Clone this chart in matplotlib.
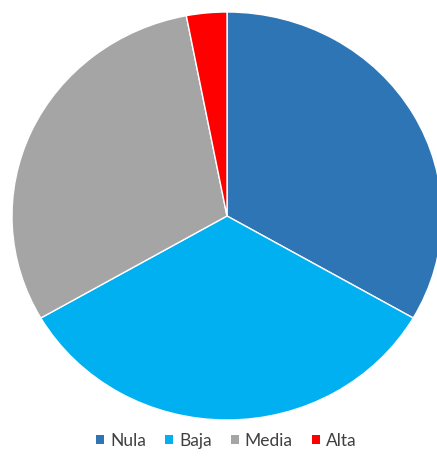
import matplotlib.pyplot as plt
from matplotlib.patches import Patch

categorias = ["Nula", "Baja", "Media", "Alta"]
valores = [11, 11, 10, 1]
colores = ["#2E75B6", "#00B0F0", "#A5A5A5", "#FF0000"]

plt.rcParams['font.family'] = ['Lato', 'DejaVu Sans']

fig = plt.figure(figsize=(4.37, 4.59), dpi=100)
ax = fig.add_axes([12 / 437, 39 / 459, 430 / 437, 408 / 459])

ax.pie(valores, colors=colores, startangle=90, counterclock=False,
       radius=1, wedgeprops=dict(edgecolor="white", linewidth=1))
ax.set_aspect('auto')
ax.set_xlim(-1, 1)
ax.set_ylim(-1, 1)
ax.axis('off')

handles = [Patch(facecolor=c, edgecolor='none') for c in colores]
fig.legend(handles, categorias, loc='center', bbox_to_anchor=(0.518, 1 - 441 / 459),
           ncol=4, frameon=False, fontsize=12.5, handlelength=0.45, handleheight=0.45,
           handletextpad=0.35, columnspacing=1.1, labelcolor='#404040')

fig.savefig("out.png", dpi=100)
